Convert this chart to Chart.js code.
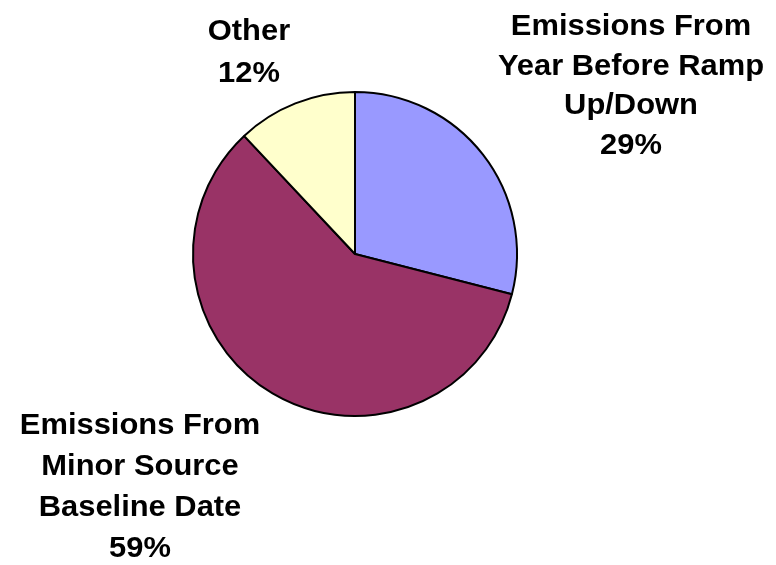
<!DOCTYPE html>
<html>
<head>
<meta charset="utf-8">
<script src="https://cdn.jsdelivr.net/npm/chart.js@4"></script>
<style>
   html, body { margin: 0; padding: 0; background: #fff; }
   #wrap { width: 776px; height: 565px; position: relative; }
</style>
</head>
<body>
<div id="wrap"><canvas id="pie-chart"></canvas></div>
<script>
// Categories and values
const categories = [
   ['Emissions From', 'Year Before Ramp', 'Up/Down'],
   ['Emissions From', 'Minor Source', 'Baseline Date'],
   ['Other']
];
const shares = [29, 59, 12];
const sliceColors = ['#9999FF', '#993366', '#FFFFCC'];

// Where each label block sits (centre x, first baseline y, line step)
const labelSpots = [
   { x: 631, y: 35, step: 39.5 },
   { x: 140, y: 434, step: 41 },
   { x: 249, y: 40, step: 42 }
];

const outsideLabels = {
   id: 'outsideLabels',
   afterDraw(chart) {
      const ctx = chart.ctx;
      const stretch = 1.065; // text in the original is a bit wider than plain Arial
      ctx.save();
      ctx.font = "bold 29px 'Liberation Sans', Arial, sans-serif";
      ctx.fillStyle = '#000';
      ctx.textAlign = 'center';
      ctx.textBaseline = 'alphabetic';
      categories.forEach((lines, i) => {
         const spot = labelSpots[i];
         const all = lines.concat([shares[i] + '%']);
         all.forEach((t, k) => {
            ctx.save();
            ctx.translate(spot.x, spot.y + k * spot.step);
            ctx.scale(stretch, 1);
            ctx.fillText(t, 0, 0);
            ctx.restore();
         });
      });
      ctx.restore();
   }
};

new Chart(document.getElementById('pie-chart'), {
   type: 'pie',
   data: {
      labels: categories.map(c => c.join(' ')),
      datasets: [{
         data: shares,
         backgroundColor: sliceColors,
         borderColor: '#000',
         borderWidth: 2
      }]
   },
   options: {
      responsive: true,
      maintainAspectRatio: false,
      animation: false,
      layout: {
         padding: { top: 91, bottom: 148, left: 192, right: 258 }
      },
      plugins: {
         legend: false,
         tooltip: { enabled: false }
      }
   },
   plugins: [outsideLabels]
});
</script>
</body>
</html>
